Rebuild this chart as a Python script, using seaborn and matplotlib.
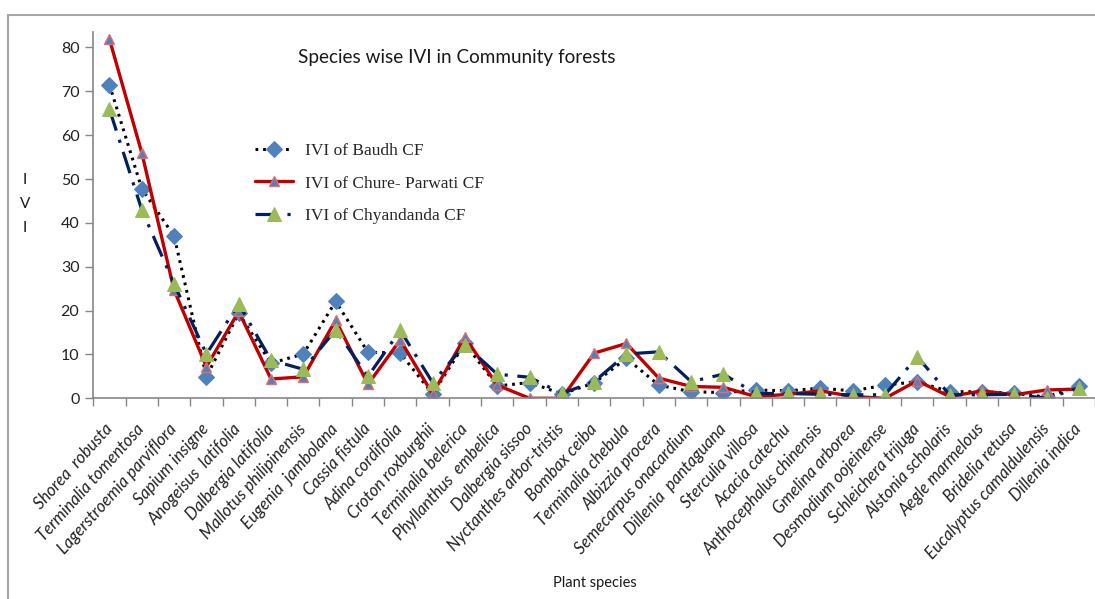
import matplotlib
matplotlib.use("Agg")
import matplotlib.pyplot as plt
import matplotlib.patches as mpatches
import seaborn as sns
import pandas as pd

species = [
    "Shorea  robusta", "Terminalia tomentosa", "Lagerstroemia parviflora",
    "Sapium insigne", "Anogeisus  latifolia", "Dalbergia latifolia",
    "Mallotus philipinensis", "Eugenia  jambolana", "Cassia fistula",
    "Adina cordifolia", "Croton roxburghii", "Terminalia belerica",
    "Phyllanthus  embelica", "Dalbergia sissoo", "Nyctanthes arbor-tristis",
    "Bombax ceiba", "Terminalia chebula", "Albizzia procera",
    "Semecarpus onacardium", "Dillenia  pantaguana", "Sterculia villosa",
    "Acacia catechu", "Anthocephalus chinensis", "Gmelina arborea",
    "Desmodium oojeinense", "Schleichera trijuga", "Alstonia scholaris",
    "Aegle marmelous", "Bridelia retusa", "Eucalyptus camaldulensis",
    "Dillenia indica",
]

ivi_baudh = [71.5, 47.8, 37.0, 4.9, 19.4, 8.0, 10.1, 22.1, 10.5, 10.3,
             1.0, 12.5, 2.8, 3.6, 1.0, 3.5, 9.1, 3.0, 1.5, 1.3,
             1.9, 1.7, 2.3, 1.7, 3.0, 3.8, 1.5, 1.5, 1.1, 0.3, 2.9]
ivi_chure = [81.9, 56.0, 24.7, 7.2, 19.8, 4.4, 4.9, 17.8, 3.2, 13.3,
             1.0, 14.0, 3.0, 0.0, 0.0, 10.3, 12.5, 4.6, 2.7, 2.5,
             0.4, 0.9, 1.7, 0.4, 0.0, 4.0, 0.4, 1.7, 0.8, 1.9, 2.1]
ivi_chyandanda = [65.9, 43.0, 26.1, 10.1, 21.5, 8.7, 6.6, 15.6, 5.0, 15.5,
                  3.6, 12.2, 5.5, 4.8, 1.1, 3.8, 10.1, 10.6, 3.8, 5.5,
                  1.1, 1.1, 0.9, 0.8, 0.8, 9.5, 0.8, 0.8, 0.9, 0.0, 2.3]

series_names = ["IVI of Baudh CF", "IVI of Chure- Parwati CF", "IVI of Chyandanda CF"]
yticks = [0, 10, 20, 30, 40, 50, 60, 70, 80]

df = pd.DataFrame({"species": species,
                   series_names[0]: ivi_baudh,
                   series_names[1]: ivi_chure,
                   series_names[2]: ivi_chyandanda})
df["pos"] = range(len(species))

sns.set_theme(style="white")
plt.rcParams["font.family"] = ["Lato", "DejaVu Sans"]

fig = plt.figure(figsize=(10.95, 5.99), dpi=100)
ax = fig.add_axes([93.3 / 1095, 1 - 398.3 / 599, 1 - 93.3 / 1095, (398.3 - 31.7) / 599])

# outer chart-area frame
fig.patches.append(mpatches.Rectangle((8 / 1095, -0.05), 1.2, 1 - 15 / 599 + 0.05,
                                      transform=fig.transFigure, fill=False,
                                      edgecolor="#a6a6a6", linewidth=1.5, zorder=0))

styles = [
    dict(color="black", linestyle=(0, (0.9, 1.6)), linewidth=2.2, marker="D",
         markersize=8, markerfacecolor="#4f81bd", markeredgecolor="#4f81bd"),
    dict(color="#c00000", linestyle="-", linewidth=2.4, marker="^",
         markersize=6.5, markerfacecolor="#4f81bd", markeredgecolor="#e46c6c",
         markeredgewidth=1.0),
    dict(color="#002060", linestyle=(0, (7, 3, 1, 3)), linewidth=2.3, marker="^",
         markersize=9.5, markerfacecolor="#9bbb59", markeredgecolor="#9bbb59"),
]

for name, st in zip(series_names, styles):
    sns.lineplot(data=df, x="pos", y=name, ax=ax, label=name, **st)

n = len(species)
ax.set_xlim(-0.5, n - 0.5)
ax.set_ylim(0, 83.6)
ax.set_yticks(yticks)
ax.set_yticklabels([str(v) for v in yticks], fontsize=11.5, color="#222222")
ax.set_xticks(range(n))
ax.set_xticklabels(species, rotation=48, ha="right", va="center",
                   rotation_mode="anchor", fontsize=12, style="italic",
                   color="#222222")
ax.set_xticks([i - 0.5 for i in range(n + 1)], minor=True)
ax.tick_params(axis="x", which="major", length=0, pad=20)
ax.tick_params(axis="x", which="minor", length=6, width=1, color="#868686",
               direction="out", bottom=True)
ax.tick_params(axis="y", which="major", length=6, width=1, color="#868686",
               direction="out", left=True, pad=4)
ax.set_xlabel("")
ax.set_ylabel("")
for side in ["top", "right"]:
    ax.spines[side].set_visible(False)
for side in ["left", "bottom"]:
    ax.spines[side].set_color("#868686")
    ax.spines[side].set_linewidth(1.2)

fig.text(457 / 1095, 1 - 57 / 599, "Species wise IVI in Community forests",
         ha="center", va="center", fontsize=13.6, color="#1a1a1a")
fig.text(595 / 1095, 1 - 583 / 599, "Plant species", ha="center", va="center",
         fontsize=10.5, color="#1a1a1a")
fig.text(25 / 1095, 1 - 204 / 599, "I\nV\nI", ha="center", va="center",
         fontsize=11, linespacing=1.9, color="#1a1a1a")

leg = ax.legend(loc="center left", bbox_to_anchor=(255 / 1095, 1 - 183.5 / 599),
                bbox_transform=fig.transFigure, frameon=False, borderpad=0,
                borderaxespad=0, handlelength=2.2, handletextpad=0.7,
                labelspacing=0.95, prop={"family": "Liberation Serif", "size": 12.5})

fig.savefig("out.png", dpi=100)
